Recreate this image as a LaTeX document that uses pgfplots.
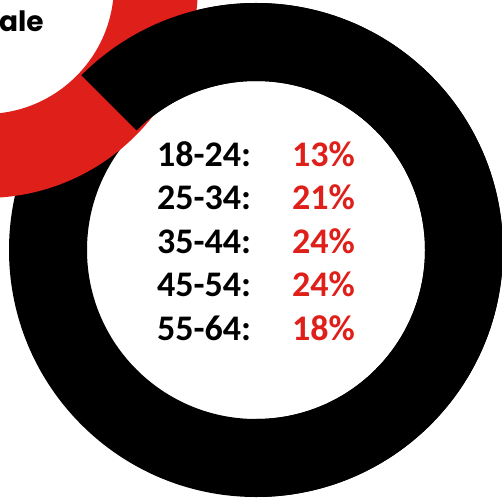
\documentclass[border=0pt]{standalone}
\usepackage{pgfplots}
\pgfplotsset{compat=1.18}
\usepackage{fontspec}
\setmainfont{Carlito}
\newfontfamily\pop{Poppins}
\definecolor{myred}{RGB}{222,31,26}
\tikzset{lab/.style={anchor=base west,inner sep=0,font=\fontsize{36}{36}\selectfont\bfseries},
         pct/.style={lab,text=myred}}
\begin{document}
\begin{tikzpicture}
\begin{axis}[width=502pt,height=499pt,scale only axis,
  xmin=0,xmax=502,ymin=0,ymax=499,hide axis,clip=true]
\coordinate (sw) at (axis cs:0,0);
\coordinate (ne) at (axis cs:502,499);
% black ring (full)
\fill[black,even odd rule] (axis cs:256,249) circle[radius=247pt] (axis cs:256,249) circle[radius=169pt];
% red ring (neighbouring donut)
\fill[myred,even odd rule] (axis cs:-15,514) circle[radius=213pt] (axis cs:-15,514) circle[radius=129pt];
% black segment on top
\fill[black] (axis cs:81.34,423.66) arc[start angle=135,end angle=-90,radius=247pt]
  -- (axis cs:256,80) arc[start angle=-90,end angle=135,radius=169pt] -- cycle;
% texts
\node[anchor=base west,inner sep=0,font=\pop\bfseries\fontsize{28}{28}\selectfont] at (axis cs:-1,467) {ale};
\node[lab] at (axis cs:157,333) {18-24:};
\node[pct] at (axis cs:292,333) {13\%};
\node[lab] at (axis cs:157,289.5) {25-34:};
\node[pct] at (axis cs:292,289.5) {21\%};
\node[lab] at (axis cs:157,246) {35-44:};
\node[pct] at (axis cs:292,246) {24\%};
\node[lab] at (axis cs:157,202.5) {45-54:};
\node[pct] at (axis cs:292,202.5) {24\%};
\node[lab] at (axis cs:157,159) {55-64:};
\node[pct] at (axis cs:292,159) {18\%};
\end{axis}
\pgfresetboundingbox
\path[use as bounding box] (sw) rectangle (ne);
\end{tikzpicture}
\end{document}
